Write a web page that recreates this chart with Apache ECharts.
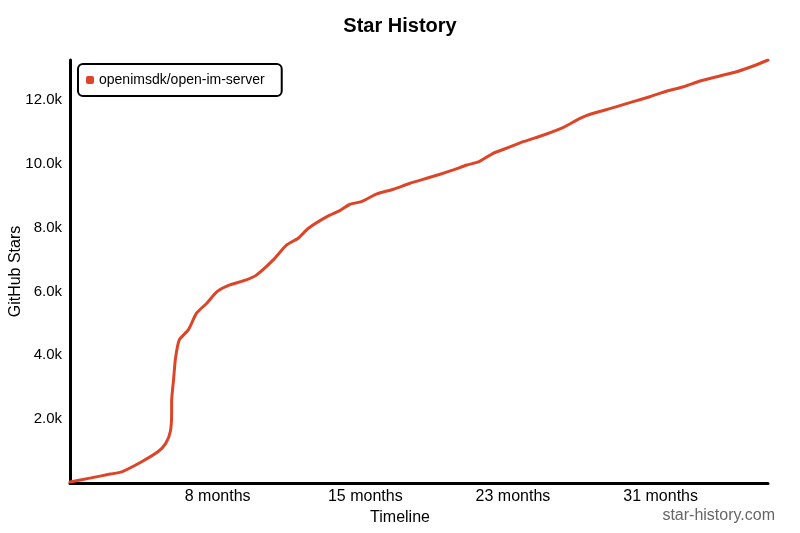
<!DOCTYPE html>
<html>
<head>
<meta charset="utf-8">
<script src="https://cdn.jsdelivr.net/npm/echarts@6/dist/echarts.min.js"></script>
<style>html,body{margin:0;padding:0;background:#fff}#c{width:800px;height:533px}</style>
</head>
<body>
<div id="c"></div>
<script>
const seriesName = 'openimsdk/open-im-server';
const days = [0, 31, 63, 81, 110, 138, 150, 157, 159, 159, 162, 165, 171, 185, 198, 214, 230, 250, 276, 292, 318, 339, 357, 373, 402, 422, 438, 456, 480, 506, 532, 558, 579, 600, 621, 639, 662, 683, 709, 741, 772, 798, 819, 850, 881, 907, 934, 960, 986, 1012, 1043, 1069, 1092];
const stars = [30, 153, 279, 351, 642, 986, 1249, 1612, 2188, 2560, 3230, 3900, 4482, 4795, 5318, 5631, 5994, 6203, 6360, 6516, 6986, 7455, 7665, 7978, 8341, 8529, 8729, 8811, 9052, 9199, 9387, 9543, 9668, 9803, 9959, 10053, 10325, 10482, 10688, 10898, 11139, 11421, 11577, 11753, 11941, 12097, 12275, 12410, 12588, 12723, 12880, 13058, 13246];
const xTickDays = 231;   // tick spacing in days
const yTickStars = 2000;

const font = '"Liberation Sans", Arial, sans-serif';
const chart = echarts.init(document.getElementById('c'), null, {renderer: 'canvas'});
chart.setOption({
  animation: false,
  backgroundColor: '#fff',
  title: {
    text: 'Star History', left: 'center', top: 11,
    textStyle: {fontFamily: font, fontSize: 20, fontWeight: 'bold', color: '#000'}
  },
  legend: {
    left: 78, top: 64, orient: 'vertical',
    borderColor: '#000', borderWidth: 2, borderRadius: 5,
    padding: [9, 17, 9, 8],
    icon: 'roundRect', itemWidth: 8, itemHeight: 8, itemGap: 4,
    textStyle: {fontFamily: font, fontSize: 14, color: '#000'},
    data: [seriesName]
  },
  grid: {left: 70, right: 32, top: 60, bottom: 50, containLabel: false, outerBoundsMode: 'none'},
  xAxis: {
    type: 'value', min: 0, max: 1092, interval: xTickDays,
    name: 'Timeline', nameLocation: 'middle', nameGap: 27, nameMoveOverlap: false,
    nameTextStyle: {fontFamily: font, fontSize: 16, color: '#000', padding: [0, 38, 0, 0]},
    axisLine: {show: true, lineStyle: {color: '#000', width: 3}},
    axisTick: {show: false},
    splitLine: {show: false},
    axisLabel: {
      fontFamily: font, fontSize: 16, color: '#000', margin: 6,
      showMinLabel: false, showMaxLabel: false,
      formatter: v => v === 0 ? '' : Math.round(v / 30) + ' months'
    }
  },
  yAxis: {
    type: 'value', min: 0, max: 'dataMax', interval: yTickStars,
    name: 'GitHub Stars', nameLocation: 'middle', nameGap: 46, nameMoveOverlap: false,
    nameTextStyle: {fontFamily: font, fontSize: 16, color: '#000'},
    axisLine: {show: true, lineStyle: {color: '#000', width: 3}},
    axisTick: {show: false},
    splitLine: {show: false},
    axisLabel: {
      fontFamily: font, fontSize: 15, color: '#000', margin: 8,
      showMinLabel: false, showMaxLabel: false,
      formatter: v => (v === 0 || v % 2000 !== 0) ? '' : (v / 1000).toFixed(1) + 'k'
    }
  },
  graphic: [{
    type: 'text', right: 25, top: 508,
    style: {text: 'star-history.com', font: '16px ' + font, fill: '#666'}
  }],
  series: [{
    name: seriesName, type: 'line',
    data: days.map((d, i) => [d, stars[i]]),
    showSymbol: false, smooth: 0.2,
    lineStyle: {color: '#dd4528', width: 3, cap: 'round', join: 'round'},
    itemStyle: {color: '#dd4528'}
  }]
});
</script>
</body>
</html>
